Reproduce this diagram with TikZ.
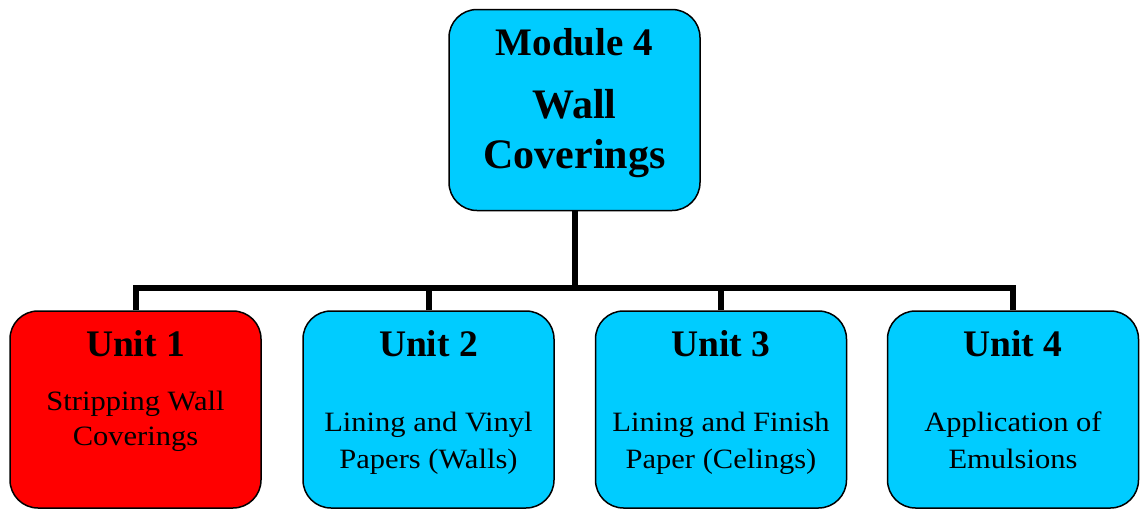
\documentclass[tikz,border=0pt]{standalone}
\usepackage{fontspec}
\setmainfont{Liberation Serif}
\newfontfamily\unitfont{Liberation Serif}[FakeStretch=1.09]
\definecolor{boxcyan}{RGB}{0,204,255}
\definecolor{boxred}{RGB}{255,0,0}
\tikzset{
  box/.style={draw=black, line width=1.5pt, rounded corners=28pt, inner sep=0pt, fill=boxcyan},
  unitbox/.style={box, minimum width=251pt, minimum height=197pt},
  conn/.style={draw=black, line width=6pt, line join=miter},
  big/.style={anchor=base, inner sep=0pt, font=\bfseries\fontsize{39}{46}\selectfont},
  huge/.style={anchor=base, inner sep=0pt, font=\bfseries\fontsize{42}{50}\selectfont},
  unittitle/.style={anchor=base, inner sep=0pt, font=\bfseries\fontsize{37.5}{44}\selectfont},
  unittext/.style={anchor=base, inner sep=0pt, font=\unitfont\fontsize{28}{34}\selectfont},
}
\begin{document}
\begin{tikzpicture}[x=1pt, y=-1pt]
\useasboundingbox (0,0) rectangle (1144,509);
% boxes
\node[box, minimum width=251pt, minimum height=201pt] (top) at (574.5,110) {};
\node[unitbox, fill=boxred] (u1) at (135.5,409.5) {};
\node[unitbox] (u2) at (428.5,409.5) {};
\node[unitbox] (u3) at (721,409.5) {};
\node[unitbox] (u4) at (1013,409.5) {};
% connectors
\coordinate (bus) at (574.5,288);
\draw[conn] (top.south) -- (bus);
\draw[conn] (u1.north) -- (u1.north |- bus) -- (u4.north |- bus) -- (u4.north);
\draw[conn] (u2.north) -- (u2.north |- bus);
\draw[conn] (u3.north) -- (u3.north |- bus);
% top texts
\node[big] (t1) at (574.5,55) {Module 4};
\node[huge] (t2) at (574.5,118) {Wall};
\node[huge] (t3) at (574.5,168) {Coverings};
% unit 1
\node[unittitle] (a1) at (135.5,356) {Unit 1};
\node[unittext] (a2) at (135.5,410) {Stripping Wall};
\node[unittext] (a3) at (135.5,445) {Coverings};
% unit 2
\node[unittitle] (b1) at (428.5,356) {Unit 2};
\node[unittext] (b2) at (428.5,431) {Lining and Vinyl};
\node[unittext] (b3) at (428.5,468) {Papers (Walls)};
% unit 3
\node[unittitle] (c1) at (721,356) {Unit 3};
\node[unittext] (c2) at (721,431) {Lining and Finish};
\node[unittext] (c3) at (721,468) {Paper (Celings)};
% unit 4
\node[unittitle] (d1) at (1013,356) {Unit 4};
\node[unittext] (d2) at (1013,431) {Application of};
\node[unittext] (d3) at (1013,468) {Emulsions};
\end{tikzpicture}
\end{document}
